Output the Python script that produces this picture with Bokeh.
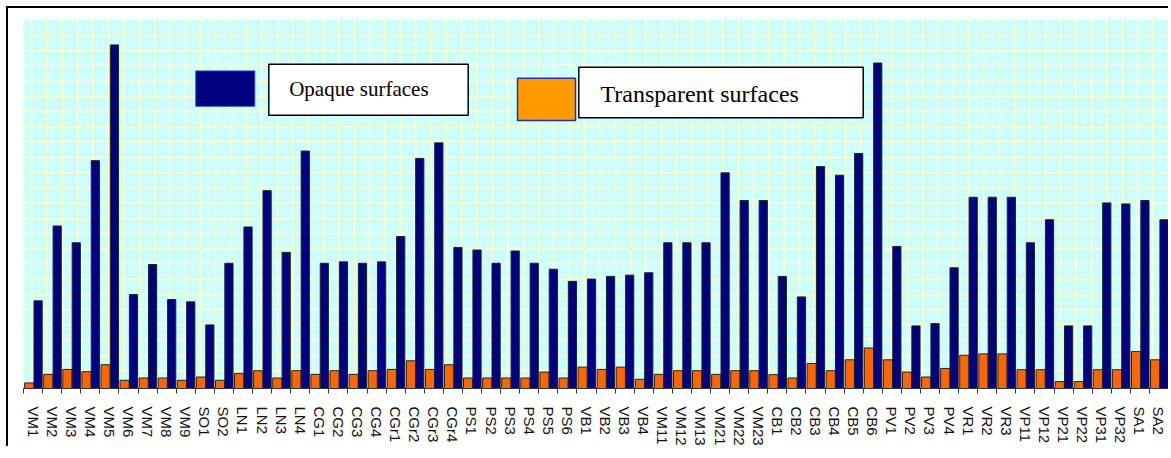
import numpy as np
from bokeh.plotting import figure
from bokeh.models import (ColumnDataSource, Range1d, LinearAxis,
                          FixedTicker, Grid, LinearScale)
from bokeh.transform import dodge
from bokeh.core.properties import value
from bokeh.embed import file_html
from bokeh.resources import INLINE

categories = ["VM1", "VM2", "VM3", "VM4", "VM5", "VM6", "VM7", "VM8", "VM9",
              "SO1", "SO2", "LN1", "LN2", "LN3", "LN4", "CG1", "CG2", "CG3", "CG4",
              "CGr1", "CGr2", "CGr3", "CGr4", "PS1", "PS2", "PS3", "PS4", "PS5", "PS6",
              "VB1", "VB2", "VB3", "VB4", "VM11", "VM12", "VM13", "VM21", "VM22", "VM23",
              "CB1", "CB2", "CB3", "CB4", "CB5", "CB6", "PV1", "PV2", "PV3", "PV4",
              "VR1", "VR2", "VR3", "VP11", "VP12", "VP21", "VP22", "VP31", "VP32",
              "SA1", "SA2"]

opaque = [88.6, 164.3, 147.3, 230.3, 347.3, 95.0, 125.3, 90.0, 87.6,
          64.3, 126.6, 163.3, 200.0, 137.6, 240.0, 126.6, 128.0, 126.6, 128.0,
          153.6, 232.6, 248.3, 142.6, 140.0, 126.6, 139.0, 126.6, 120.6, 108.3,
          110.6, 113.3, 114.6, 117.0, 147.3, 147.3, 147.3, 218.0, 190.0, 190.0,
          113.3, 92.6, 224.3, 215.6, 237.6, 329.0, 143.6, 63.3, 65.6, 122.0,
          193.3, 193.3, 193.3, 147.3, 170.6, 63.3, 63.3, 187.6, 186.6,
          190.0, 170.6]

transparent = [5.6, 14.3, 19.3, 17.0, 24.0, 8.3, 10.6, 10.6, 8.3,
               11.6, 8.3, 15.3, 18.0, 10.6, 18.0, 14.3, 18.0, 14.3, 18.0,
               19.3, 28.0, 19.3, 24.0, 10.6, 10.6, 10.6, 10.6, 16.6, 10.6,
               21.6, 19.3, 21.6, 9.3, 14.3, 18.0, 18.0, 14.3, 18.0, 18.0,
               14.0, 10.6, 25.3, 18.0, 29.0, 41.0, 29.0, 16.6, 11.6, 20.3,
               33.6, 35.0, 35.0, 19.0, 19.0, 7.0, 7.0, 19.0, 19.0,
               37.3, 29.0]

legend_labels = ["Opaque surfaces", "Transparent surfaces"]

n = len(categories)
pos = list(range(n))
source = ColumnDataSource(dict(cat=categories, pos=pos, opaque=opaque, transparent=transparent))

FRAME_W = 1145
FRAME_H = 373

p = figure(x_range=Range1d(-0.5, n - 0.5),
           y_range=Range1d(0, FRAME_H),
           width=1162, height=440,
           output_backend="svg", toolbar_location=None,
           x_axis_location=None, y_axis_location=None,
           min_border_left=15, min_border_right=2,
           min_border_top=11, min_border_bottom=56)
p.margin = (6, 0, 0, 6)
p.extra_x_ranges = {"px": Range1d(0, FRAME_W)}
p.extra_x_scales = {"px": LinearScale()}

p.background_fill_color = "#CCFFFF"
p.border_fill_color = "white"
p.outline_line_color = None
p.xgrid.visible = False
p.ygrid.visible = False
p.styles = {"border-top": "2px solid black", "border-left": "2px solid black"}

# background grid (square, yellowish)
xg = Grid(dimension=0, ticker=FixedTicker(ticks=list(8 + 15.36 * np.arange(75))),
          x_range_name="px", grid_line_color="#FFFFC8", grid_line_width=1.6)
yg = Grid(dimension=1, ticker=FixedTicker(ticks=list(357 - 15.39 * np.arange(24))),
          grid_line_color="#FFFFC8", grid_line_width=1.6)
p.add_layout(xg)
p.add_layout(yg)

# bars
p.vbar(x=dodge("pos", -0.2), top="transparent", width=0.48,
       source=source, fill_color="#FF6600", line_color="#222222", line_width=1)
p.vbar(x=dodge("pos", 0.265), top="opaque", width=0.43,
       source=source, fill_color="#000080", line_color="#222222", line_width=1)

# axis: labels at category centres, tick marks (minor) at category boundaries
bounds = [i - 0.5 for i in range(n + 1)]
xaxis = LinearAxis(ticker=FixedTicker(ticks=pos, minor_ticks=bounds),
                   major_label_overrides={i: c for i, c in zip(pos, categories)},
                   major_tick_line_color=None,
                   minor_tick_line_color="#333333", minor_tick_out=5, minor_tick_in=0,
                   axis_line_color="#333333",
                   major_label_orientation=-np.pi / 2,
                   major_label_text_font="Liberation Sans",
                   major_label_text_font_size="15px",
                   major_label_text_color="#111111",
                   major_label_standoff=12)
p.add_layout(xaxis, "below")

# legend (custom, as in the reference)
p.quad(left=[172.3], right=[231.3], top=[321], bottom=[285.3], x_range_name="px",
       fill_color="#000080", line_color="#3344AA", line_width=1)
p.quad(left=[245.3], right=[444.7], top=[327.7], bottom=[276.3], x_range_name="px",
       fill_color="white", line_color="black", line_width=1.5)
p.text(x=[265.7], y=[303], text=[legend_labels[0]], x_range_name="px",
       text_font=value("Liberation Serif"), text_font_size="21px",
       text_baseline="middle", text_color="black")

p.quad(left=[494], right=[552], top=[313.7], bottom=[271], x_range_name="px",
       fill_color="#FF9900", line_color="#2233AA", line_width=1.5)
p.quad(left=[555.3], right=[839.7], top=[324.7], bottom=[273.7], x_range_name="px",
       fill_color="white", line_color="black", line_width=1.5)
p.text(x=[577], y=[298], text=[legend_labels[1]], x_range_name="px",
       text_font=value("Liberation Serif"), text_font_size="24px",
       text_baseline="middle", text_color="black")

open("out.html", "w").write(file_html(p, INLINE))
